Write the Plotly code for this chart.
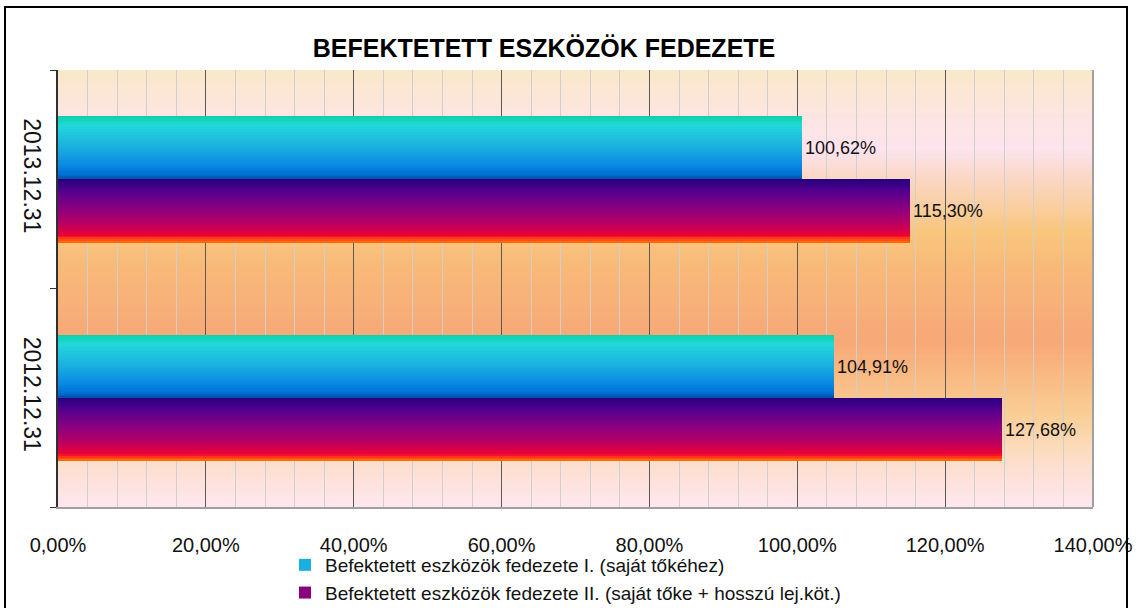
import plotly.graph_objects as go

# ---------------- data ----------------
categories = ["2012.12.31", "2013.12.31"]
series_names = [
    "Befektetett eszközök fedezete I. (saját tőkéhez)",
    "Befektetett eszközök fedezete II. (saját tőke + hosszú lej.köt.)",
]
series1 = [1.0491, 1.0062]
series2 = [1.2768, 1.1530]
x_tickvals = [0.0, 0.2, 0.4, 0.6, 0.8, 1.0, 1.2, 1.4]

title_text = "BEFEKTETETT ESZKÖZÖK FEDEZETE"

# ---------------- styling ----------------
FONT = "Liberation Sans, Arial, sans-serif"

# gradient stops (top -> bottom)
grad1 = [(0.0, "#0CD2AA"), (0.15, "#22D8DC"), (0.5, "#1AAEE0"), (0.78, "#0888E4"),
         (0.92, "#0070D4"), (1.0, "#004CA4")]
grad2 = [(0.0, "#26007E"), (0.2, "#56008E"), (0.45, "#880080"), (0.68, "#B40066"),
         (0.86, "#E2003E"), (0.9, "#F20030"), (0.94, "#FF3A1E"), (1.0, "#FF7400")]
bg_grad = [(0.00, "#FAE8C8"), (0.07, "#FCE6DA"), (0.18, "#FDE4EE"), (0.24, "#FBD8C8"),
           (0.30, "#FAD0A8"), (0.37, "#F9C67E"), (0.46, "#F8B878"), (0.62, "#F7A878"),
           (0.71, "#F9BC84"), (0.80, "#FAD09A"), (0.87, "#FCDCC0"), (0.94, "#FDE2DC"),
           (1.00, "#FDE6EE")]


def hex2rgb(h):
    h = h.lstrip("#")
    return tuple(int(h[i:i + 2], 16) for i in (0, 2, 4))


def grad_color(stops, t):
    for (t0, c0), (t1, c1) in zip(stops[:-1], stops[1:]):
        if t0 <= t <= t1:
            f = 0 if t1 == t0 else (t - t0) / (t1 - t0)
            a, b = hex2rgb(c0), hex2rgb(c1)
            r = [round(a[i] + (b[i] - a[i]) * f) for i in range(3)]
            return "rgb(%d,%d,%d)" % tuple(r)
    return stops[-1][1]


BAR_W = 0.288  # category units
N_STRIPES = 40

fig = go.Figure()

# main bars (legend + labels)
specs = [
    (series_names[0], series1, 0.0, "#18B0E0", grad1),
    (series_names[1], series2, -BAR_W, "#8A007E", grad2),
]
for name, vals, off, col, _ in specs:
    fig.add_trace(go.Bar(
        y=categories, x=vals, orientation="h", name=name,
        offset=off, width=BAR_W,
        marker=dict(color=col, line=dict(width=0)),
        texttemplate="%{x:.2%}", textposition="outside",
        textfont=dict(size=18, color="#111111", family=FONT),
        constraintext="none", cliponaxis=False,
    ))

# gradient stripes
for name, vals, off, col, grad in specs:
    step = BAR_W / N_STRIPES
    for k in range(N_STRIPES):
        t = (k + 0.5) / N_STRIPES
        top = off + BAR_W - k * step
        last = k == N_STRIPES - 1
        fig.add_trace(go.Bar(
            y=categories, x=vals, orientation="h",
            offset=off if last else top - step * 1.25,
            width=step if last else step * 1.25,
            marker=dict(color=grad_color(grad, t), line=dict(width=0)),
            showlegend=False, hoverinfo="skip",
        ))

# background gradient shapes
shapes = []
NB = 120
for i in range(NB):
    t = (i + 0.5) / NB
    y1 = 1 - i / NB
    y0 = max(0, 1 - (i + 1) / NB - 0.004)
    shapes.append(dict(type="rect", xref="x domain", yref="y domain",
                       x0=0, x1=1, y0=y0, y1=y1, layer="below",
                       fillcolor=grad_color(bg_grad, t), line=dict(width=0)))
# right border of plot area
shapes.append(dict(type="line", xref="x domain", yref="y domain", x0=1, x1=1, y0=0, y1=1,
                   line=dict(color="#A0A0A0", width=2), layer="above"))
# outer chart border
L, R, T, B = 58, 46, 70, 101
PW, PH = 1139 - L - R, 608 - T - B
shapes.append(dict(type="rect", xref="paper", yref="paper",
                   x0=(5 - L) / PW, x1=(1127 - L) / PW,
                   y0=(608 - B - 620) / PH, y1=(608 - B - 7) / PH,
                   line=dict(color="#000000", width=2), fillcolor="rgba(0,0,0,0)", layer="above"))

fig.update_layout(
    width=1139, height=608, autosize=False,
    margin=dict(l=L, r=R, t=T, b=B, autoexpand=False),
    paper_bgcolor="white", plot_bgcolor="rgba(0,0,0,0)",
    barmode="overlay", separators=", ",
    font=dict(family=FONT, color="#111111"),
    title=dict(text="<b>" + title_text + "</b>", x=(544 - L) / PW, xref="paper", xanchor="center",
               y=1 - 48 / 608, yref="container", yanchor="middle", automargin=False,
               font=dict(size=25, family=FONT, color="#000000")),
    shapes=shapes,
    xaxis=dict(range=[0, 1.4], tickvals=x_tickvals, tickformat=".2%", automargin=False,
               showgrid=True, gridcolor="#5A5A5A", gridwidth=1,
               minor=dict(dtick=0.04, tick0=0, showgrid=True, gridcolor="#CFCFCF", gridwidth=1),
               zeroline=False, showline=True, linecolor="#A0A0A0", linewidth=2,
               ticks="outside", ticklen=19, tickcolor="rgba(0,0,0,0)",
               tickfont=dict(size=20, family=FONT, color="#111111")),
    xaxis2=dict(range=[0, 1.4], overlaying="x", side="top", tickvals=x_tickvals, automargin=False,
                showticklabels=False, ticks="outside", ticklen=7, tickcolor="#404040",
                showline=True, linecolor="#404040", linewidth=2, showgrid=False, zeroline=False),
    yaxis=dict(type="category", categoryorder="array", categoryarray=categories, automargin=False,
               range=[-0.5, 1.5], tickson="boundaries", ticks="outside", ticklen=6,
               tickcolor="#303030", showline=True, linecolor="#303030", linewidth=2,
               showgrid=False, zeroline=False, tickangle=90, ticklabelstandoff=4,
               tickfont=dict(size=23, family=FONT, color="#111111")),
    legend=dict(x=(285 - L) / PW, xanchor="left", y=(608 - B - 546) / PH, yanchor="top",
                orientation="v", bgcolor="rgba(0,0,0,0)", font=dict(size=19, family=FONT),
                traceorder="normal", tracegroupgap=0),
    bargap=0, hovermode="closest",
)

fig.write_html(
    "out.html",
    config={"displayModeBar": False},
    post_script="document.body.style.margin='0';document.body.style.overflow='hidden';",
)
